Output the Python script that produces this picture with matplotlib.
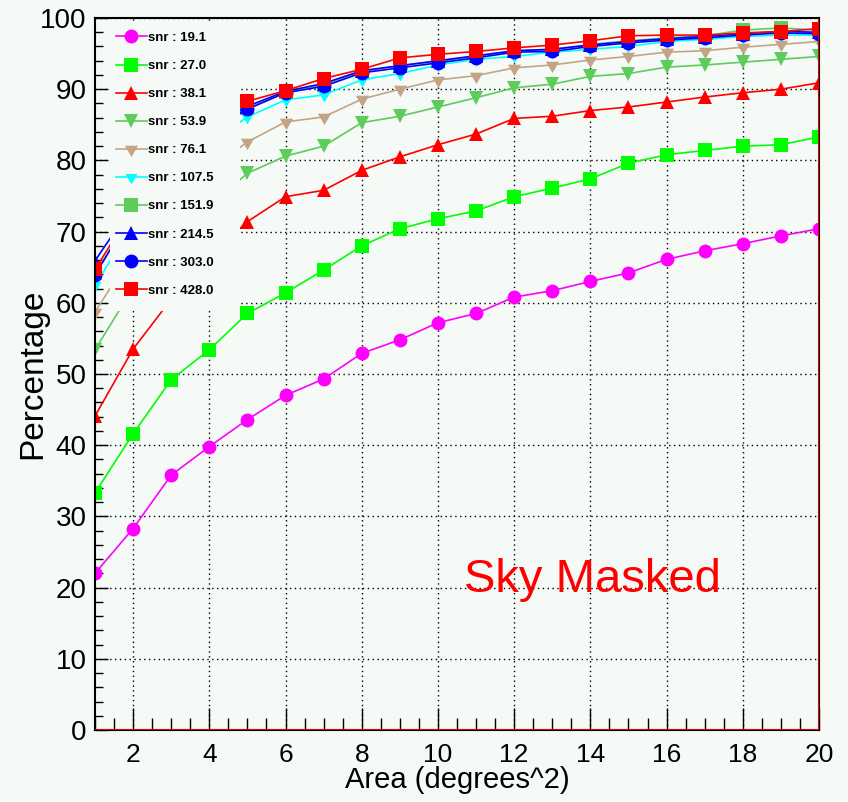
#!/usr/bin/env python3
import matplotlib

matplotlib.use("Agg")
import matplotlib.pyplot as plt
from matplotlib.patches import Rectangle
from matplotlib.ticker import MultipleLocator

plt.rcParams["font.family"] = ["Liberation Sans", "DejaVu Sans"]

AREA = list(range(1, 21))

SNR_LABELS = ["19.1", "27.0", "38.1", "53.9", "76.1", "107.5", "151.9", "214.5", "303.0", "428.0"]

PCT_19_1 = [22.0, 28.3, 35.8, 39.8, 43.6, 47.0, 49.3, 52.9, 54.8, 57.2,
            58.5, 60.8, 61.7, 63.0, 64.2, 66.1, 67.3, 68.3, 69.4, 70.4]
PCT_27_0 = [33.3, 41.6, 49.2, 53.4, 58.5, 61.4, 64.6, 68.0, 70.4, 71.8,
            72.9, 74.9, 76.1, 77.4, 79.6, 80.8, 81.4, 82.0, 82.2, 83.3]
PCT_38_1 = [44.1, 53.5, 60.5, 66.5, 71.4, 74.9, 75.8, 78.6, 80.5, 82.2,
            83.7, 85.9, 86.2, 87.0, 87.5, 88.2, 88.9, 89.5, 90.0, 90.9]
PCT_53_9 = [53.4, 62.1, 68.6, 73.5, 78.2, 80.6, 82.0, 85.3, 86.2, 87.5,
            88.8, 90.2, 90.7, 91.8, 92.2, 93.1, 93.4, 93.8, 94.2, 94.6]
PCT_76_1 = [58.7, 67.1, 73.5, 78.6, 82.6, 85.4, 86.1, 88.6, 90.0, 91.3,
            91.9, 93.0, 93.4, 94.1, 94.6, 95.2, 95.4, 95.9, 96.3, 96.7]
PCT_107_5 = [62.5, 71.0, 77.5, 82.4, 86.1, 88.5, 89.2, 91.3, 92.2, 93.4,
             94.2, 94.6, 95.2, 95.6, 96.0, 96.7, 97.0, 97.4, 97.6, 97.6]
PCT_151_9 = [64.2, 72.5, 79.0, 84.0, 87.3, 89.6, 90.6, 92.5, 93.3, 93.9,
             94.6, 95.4, 95.6, 96.3, 96.8, 97.2, 97.5, 98.3, 98.6, 98.3]
PCT_214_5 = [65.9, 73.8, 79.8, 84.5, 87.6, 89.7, 90.8, 92.6, 93.3, 94.0,
             94.7, 95.4, 95.6, 96.2, 96.7, 97.1, 97.4, 97.8, 98.1, 98.0]
PCT_303_0 = [63.9, 72.8, 79.2, 84.0, 87.2, 89.5, 90.4, 92.3, 93.0, 93.7,
             94.4, 95.2, 95.3, 96.0, 96.5, 96.9, 97.2, 97.6, 97.9, 97.8]
PCT_428_0 = [64.7, 73.2, 79.8, 84.6, 88.3, 89.8, 91.5, 92.8, 94.4, 94.9,
             95.3, 95.8, 96.2, 96.8, 97.5, 97.6, 97.6, 97.9, 98.1, 98.5]

SERIES = [PCT_19_1, PCT_27_0, PCT_38_1, PCT_53_9, PCT_76_1,
          PCT_107_5, PCT_151_9, PCT_214_5, PCT_303_0, PCT_428_0]

STYLES = [
    ("#ff00ff", "o", 10),
    ("#00ff00", "s", 10),
    ("#ff0000", "^", 10),
    ("#5ccc5a", "v", 10),
    ("#c4a486", (3, 1, 180), 11),
    ("#00ffff", (3, 1, 180), 10),
    ("#5ccc5a", "s", 10),
    ("#0000ff", "^", 10),
    ("#0000ff", "o", 10),
    ("#ff0000", "s", 10),
]

BG = "#f5faf7"

fig = plt.figure(figsize=(8.48, 8.02), dpi=100, facecolor=BG)
ax = fig.add_axes([95 / 848, 1 - 730 / 802, 724 / 848, 712 / 802])
ax.set_facecolor(BG)

for vals, label, (color, marker, ms) in zip(SERIES, SNR_LABELS, STYLES):
    ax.plot(AREA, vals, color=color, marker=marker, markersize=ms, lw=1.2,
            markeredgewidth=0, label=f"snr : {label}", zorder=2)

# legend box hides the lines behind it (markers at x=5 stay visible)
ax.add_patch(Rectangle((15 / 724, 0.588), 130 / 724, 0.405, transform=ax.transAxes,
                       facecolor=BG, edgecolor="none", zorder=2.5))
leg = ax.legend(loc="upper left", bbox_to_anchor=(0.022, 0.988), frameon=False,
                numpoints=1, handlelength=2.3, handletextpad=0.1, labelspacing=1.2,
                borderaxespad=0, prop={"size": 9.5, "weight": "bold"})
leg.set_zorder(5)

ax.axvline(20, color="red", lw=2, zorder=3)
ax.axhline(0, color="red", lw=2, zorder=3)

ax.set_xlim(1, 20)
ax.set_ylim(0, 100)
ax.xaxis.set_major_locator(MultipleLocator(2))
ax.xaxis.set_minor_locator(MultipleLocator(0.5))
ax.yaxis.set_major_locator(MultipleLocator(10))
ax.yaxis.set_minor_locator(MultipleLocator(2))
ax.tick_params(axis="x", which="major", direction="in", length=16, width=1, labelsize=19, pad=9)
ax.tick_params(axis="x", which="minor", direction="in", length=8.5, width=1)
ax.tick_params(axis="y", which="major", direction="in", length=9, width=1, labelsize=20, pad=6)
ax.tick_params(axis="y", which="minor", direction="in", length=6, width=1)

ax.grid(True, which="major", color="black", linestyle=(0, (1, 2.5)), lw=1)
for s in ax.spines.values():
    s.set_linewidth(1.5)

ax.set_xlabel("Area (degrees^2)", fontsize=21, labelpad=0)
ax.set_ylabel("Percentage", fontsize=24, labelpad=-6)

ax.text(14.05, 21.0, "Sky Masked", color="red", fontsize=34, ha="center", va="center")

fig.savefig("out.png", dpi=100, facecolor=BG)
